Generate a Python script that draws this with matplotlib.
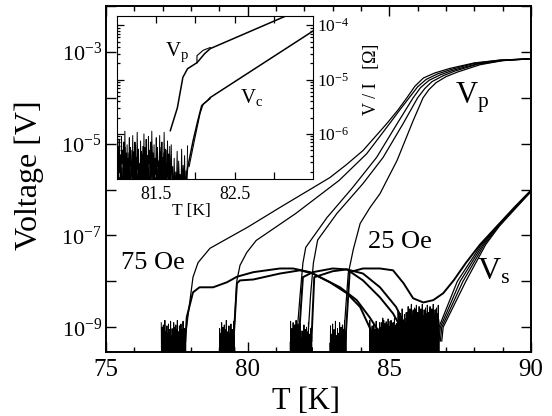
import numpy as np
import matplotlib
matplotlib.use('Agg')
import matplotlib.pyplot as plt
from matplotlib.ticker import FixedLocator, FuncFormatter, LogLocator, MultipleLocator, NullFormatter

plt.rcParams['font.family'] = 'Liberation Serif'
plt.rcParams['mathtext.fontset'] = 'custom'
plt.rcParams['mathtext.rm'] = 'Liberation Serif'
plt.rcParams['mathtext.it'] = 'Liberation Serif:italic'

# ---- main panel, values are log10(V) ----
# Vp traces (75 Oe ... 25 Oe)
vpA_T = [77.78, 78.07, 78.25, 78.67, 80.0, 81.14, 82.9, 83.5, 84.07, 84.9, 85.3, 85.62, 85.9, 86.2, 86.6, 87.14, 88.0, 88.9, 90.0]
vpA_V = [-9.3, -7.91, -7.59, -7.28, -6.82, -6.39, -5.74, -5.45, -5.15, -4.57, -4.27, -4.0, -3.75, -3.57, -3.46, -3.36, -3.24, -3.18, -3.15]
vpB_T = [79.50, 79.62, 79.73, 79.97, 80.3, 81.7, 83.23, 84.2, 85.0, 85.35, 85.7, 86.0, 86.3, 86.7, 87.2, 88.0, 88.9, 90.0]
vpB_V = [-9.3, -7.98, -7.65, -7.37, -7.11, -6.52, -5.8, -5.22, -4.57, -4.28, -4.0, -3.76, -3.6, -3.48, -3.38, -3.25, -3.18, -3.15]
vpC_T = [81.72, 81.85, 81.95, 82.05, 82.8, 83.7, 84.55, 85.27, 85.84, 86.1, 86.4, 86.8, 87.25, 88.1, 89.0, 90.0]
vpC_V = [-9.3, -8.3, -7.6, -7.26, -6.61, -5.96, -5.3, -4.57, -4.0, -3.78, -3.62, -3.5, -3.4, -3.26, -3.18, -3.15]
vpD_T = [82.12, 82.22, 82.32, 82.47, 83.15, 84.07, 84.78, 85.48, 86.0, 86.25, 86.5, 86.9, 87.3, 88.1, 89.0, 90.0]
vpD_V = [-9.3, -8.3, -7.6, -7.1, -6.52, -5.87, -5.3, -4.57, -4.0, -3.8, -3.65, -3.52, -3.42, -3.27, -3.19, -3.15]
vpE_T = [83.38, 83.47, 83.55, 83.73, 83.97, 84.32, 84.67, 85.27, 85.84, 86.19, 86.4, 86.65, 87.0, 87.4, 88.2, 89.0, 90.0]
vpE_V = [-9.3, -8.5, -7.83, -7.3, -6.74, -6.39, -6.09, -5.37, -4.5, -4.0, -3.82, -3.67, -3.54, -3.44, -3.28, -3.19, -3.15]

# Vs traces
vsA_T = [77.8, 77.85, 78.07, 78.3, 78.78, 79.27, 79.62, 80.2, 81.14, 81.6, 82.2, 82.9, 83.5, 83.97, 84.3, 84.6]
vsA_V = [-9.3, -8.78, -8.24, -8.13, -8.13, -8.02, -7.9, -7.8, -7.72, -7.72, -7.8, -8.02, -8.26, -8.56, -9.0, -9.4]
vsB_T = [79.5, 79.62, 79.73, 80.2, 81.14, 81.85, 82.3, 83.26, 83.85, 84.3, 84.67, 84.9]
vsB_V = [-9.3, -8.04, -7.98, -7.96, -7.83, -7.76, -7.83, -8.13, -8.41, -8.78, -9.13, -9.4]
vsC_T = [81.8, 81.95, 82.3, 83.0, 83.5, 84.07, 84.67, 85.13, 85.4, 85.7]
vsC_V = [-9.3, -7.91, -7.8, -7.72, -7.74, -7.98, -8.35, -8.7, -9.0, -9.4]
vsD_T = [82.25, 82.35, 83.0, 83.5, 84.07, 84.67, 85.24, 85.6, 85.9]
vsD_V = [-9.3, -7.91, -7.78, -7.74, -7.83, -8.13, -8.56, -9.0, -9.4]
vsE_T = [83.45, 83.6, 84.07, 84.67, 85.13, 85.5, 85.84, 86.2, 86.55, 86.9, 87.27, 87.7, 88.2, 88.8, 89.4, 90.0]
vsE_V = [-9.3, -7.8, -7.72, -7.72, -7.76, -8.04, -8.37, -8.46, -8.41, -8.26, -7.98, -7.6, -7.2, -6.8, -6.4, -6.02]
# Vs coming back out of the noise above 86.7 K
vs_rise_V = [-9.3, -9.0, -8.0, -7.2, -6.8, -6.42, -6.04]
vs_rise_T1 = [86.70, 86.75, 87.40, 88.25, 88.80, 89.40, 90.0]
vs_rise_T2 = [86.75, 86.80, 87.50, 88.30, 88.82, 89.40, 90.0]
vs_rise_T3 = [86.80, 86.85, 87.60, 88.35, 88.85, 89.42, 90.0]
vs_rise_T4 = [86.85, 86.90, 87.70, 88.40, 88.88, 89.44, 90.0]

# noise floor segments (start, end, top in log10 V)
noise_start = [76.95, 79.0, 81.5, 81.75, 82.9, 84.3, 84.7, 85.3, 85.6]
noise_end = [77.82, 79.55, 81.85, 82.28, 83.48, 86.75, 86.75, 86.75, 86.75]
noise_top = [-8.85, -8.85, -8.85, -8.9, -8.85, -8.85, -8.8, -8.6, -8.5]
# hand-read spike depths below the noise top (decades)
noise_pattern = [-0.05, -0.9, -0.3, -1.1, -0.15, -0.75, -0.45, -1.0, -0.1, -0.6, -0.35, -1.2,
                 -0.2, -0.85, 0.0, -0.7, -0.4, -1.05, -0.25, -0.95, -0.5, -0.8, -0.12, -1.15,
                 -0.3, -0.65, -0.55, -1.0, -0.08, -0.9, -0.38, -0.75, -0.2, -1.1, -0.48, -0.85,
                 -0.02, -0.7, -0.33, -1.2, -0.6, -0.95, -0.18, -0.8, -0.42, -1.05, -0.28, -0.9]

# ---- inset, V/I in ohm ----
in_vp_T = [81.68, 81.77, 81.84, 81.9, 82.02, 82.12, 82.19, 83.25]
in_vp_V = [-5.94, -5.52, -4.96, -4.80, -4.69, -4.52, -4.43, -3.77]
in_vp2_T = [82.02, 82.02, 82.1, 82.19]
in_vp2_V = [-4.69, -4.56, -4.46, -4.41]
in_vc_T = [81.88, 81.9, 81.97, 82.03, 82.08, 82.15, 82.19, 83.55]
in_vc_V = [-6.9, -6.63, -6.13, -5.76, -5.48, -5.39, -5.33, -4.06]
in_vc2_T = [81.92, 81.99, 82.06, 82.1, 82.19]
in_vc2_V = [-6.6, -6.1, -5.62, -5.45, -5.35]
in_noise_start = [81.0, 81.0]
in_noise_end = [81.68, 81.9]
in_noise_top = [-5.95, -6.2]


def noisy(t0, t1, top, shift):
    reps = max(1, int(round((t1 - t0) / 0.45)))
    pat = np.roll(np.tile(noise_pattern, reps), shift)
    T = np.linspace(t0, t1, len(pat))
    return T, 10.0 ** (top + pat)


fig = plt.figure(figsize=(5.52, 4.16), dpi=100)
ax = fig.add_axes([106 / 552, 1 - 352 / 416, 425 / 552, 346 / 416])

for i, (t0, t1, top) in enumerate(zip(noise_start, noise_end, noise_top)):
    T, V = noisy(t0, t1, top, 7 * i)
    ax.plot(T, V, color='black', lw=0.7)

for T, V in [(vpA_T, vpA_V), (vpB_T, vpB_V), (vpC_T, vpC_V), (vpD_T, vpD_V), (vpE_T, vpE_V)]:
    ax.plot(T, 10.0 ** np.array(V), color='black', lw=0.9)
for T, V in [(vsA_T, vsA_V), (vsB_T, vsB_V), (vsC_T, vsC_V), (vsD_T, vsD_V), (vsE_T, vsE_V)]:
    ax.plot(T, 10.0 ** np.array(V), color='black', lw=1.4)
for T in [vs_rise_T1, vs_rise_T2, vs_rise_T3, vs_rise_T4]:
    ax.plot(T, 10.0 ** np.array(vs_rise_V), color='black', lw=0.9)

ax.set_yscale('log')
ax.set_xlim(75, 90)
ax.set_ylim(10 ** -9.54, 1e-2)
ax.xaxis.set_major_locator(FixedLocator([75, 80, 85, 90]))
ax.xaxis.set_minor_locator(MultipleLocator(1))
ax.yaxis.set_major_locator(FixedLocator(10.0 ** np.arange(-10, -1)))
ax.yaxis.set_minor_locator(LogLocator(base=10, subs=np.arange(2, 10)))
ax.yaxis.set_minor_formatter(NullFormatter())
ax.yaxis.set_major_formatter(FuncFormatter(
    lambda v, p: r'$\mathregular{10^{%d}}$' % round(np.log10(v)) if round(np.log10(v)) % 2 else ''))
ax.tick_params(which='both', direction='in', top=True, right=True, width=1)
ax.tick_params(which='major', length=7)
ax.tick_params(which='minor', length=3.5)
ax.tick_params(axis='x', labelsize=18, pad=5)
ax.tick_params(axis='y', labelsize=16, pad=3)
for s in ax.spines.values():
    s.set_linewidth(1.4)
ax.set_xlabel('T [K]', fontsize=22)
ax.xaxis.set_label_coords(0.47, -0.1)
ax.set_ylabel('Voltage [V]', fontsize=23)
ax.yaxis.set_label_coords(-0.145, 0.51)

ax.text(76.66, 10 ** -7.59, '75 Oe', fontsize=19, ha='center', va='center')
ax.text(85.38, 10 ** -7.15, '25 Oe', fontsize=19, ha='center', va='center')
ax.text(87.32, 10 ** -4.13, r'V$_\mathrm{p}$', fontsize=22, ha='left', va='baseline')
ax.text(88.1, 10 ** -7.96, r'V$_\mathrm{s}$', fontsize=23, ha='left', va='baseline')

# inset
axi = fig.add_axes([117 / 552, 1 - 179 / 416, 196 / 552, 163 / 416])
for i, (t0, t1, top) in enumerate(zip(in_noise_start, in_noise_end, in_noise_top)):
    T, V = noisy(t0, t1, top, 11 * i)
    axi.plot(T, V, color='black', lw=0.7)
axi.plot(in_vp_T, 10.0 ** np.array(in_vp_V), color='black', lw=1.1)
axi.plot(in_vp2_T, 10.0 ** np.array(in_vp2_V), color='black', lw=0.8)
axi.plot(in_vc_T, 10.0 ** np.array(in_vc_V), color='black', lw=1.1)
axi.plot(in_vc2_T, 10.0 ** np.array(in_vc2_V), color='black', lw=0.8)

axi.set_yscale('log')
axi.set_xlim(81.0, 83.5)
axi.set_ylim(10 ** -6.83, 10 ** -3.83)
axi.xaxis.set_major_locator(FixedLocator([81.5, 82.5]))
axi.xaxis.set_minor_locator(FixedLocator([82.0, 83.0]))
axi.yaxis.set_major_locator(FixedLocator([1e-6, 1e-5, 1e-4]))
axi.yaxis.set_minor_locator(LogLocator(base=10, subs=np.arange(2, 10)))
axi.yaxis.set_minor_formatter(NullFormatter())
axi.yaxis.set_major_formatter(FuncFormatter(
    lambda v, p: r'$\mathregular{10^{%d}}$' % round(np.log10(v))))
axi.tick_params(which='both', direction='in', top=True, right=True, left=True,
                labelleft=False, labelright=True, width=0.9)
axi.tick_params(which='major', length=5)
axi.tick_params(which='minor', length=2.5)
axi.tick_params(axis='x', which='minor', length=5)
axi.tick_params(axis='x', labelsize=13, pad=5)
axi.tick_params(axis='y', labelsize=12.5, pad=3)
axi.set_xlabel('T [K]', fontsize=12.5)
axi.xaxis.set_label_coords(0.38, -0.15)
axi.yaxis.set_label_position('right')
axi.set_ylabel('V / I   [\u03a9]', fontsize=13, rotation=90)
axi.yaxis.set_label_coords(1.255, 0.61)
axi.text(81.61, 10 ** -4.56, r'V$_\mathrm{p}$', fontsize=15, va='baseline')
axi.text(82.57, 10 ** -5.44, r'V$_\mathrm{c}$', fontsize=15, va='baseline')

fig.savefig('out.png', dpi=100)
